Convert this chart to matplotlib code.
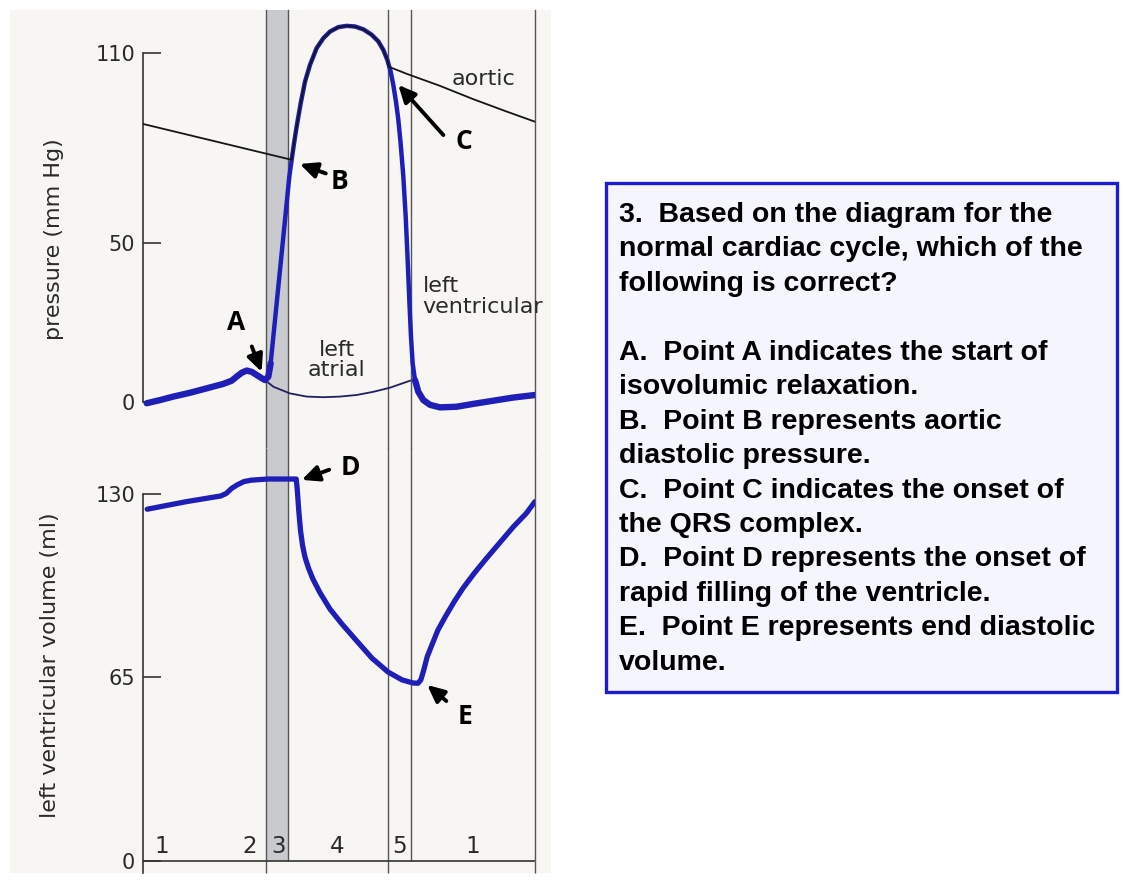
import matplotlib
matplotlib.use("Agg")
import matplotlib.pyplot as plt
from matplotlib.patches import Rectangle
import numpy as np

# --- data (time in s, pressure in mmHg, volume in ml) ---
lv_time = [0.0075, 0.0347, 0.0619, 0.0959, 0.130, 0.1639, 0.181, 0.1912, 0.2014,
           0.2116, 0.2218, 0.232, 0.2422, 0.249, 0.2558, 0.2605, 0.2660, 0.2728,
           0.2796, 0.2864, 0.2932, 0.2986, 0.3034, 0.3082, 0.3136, 0.3218, 0.3306,
           0.3408, 0.3544, 0.368, 0.3816, 0.3986, 0.4157, 0.4327, 0.4497, 0.4667,
           0.4803, 0.4905, 0.4986, 0.5054, 0.5108, 0.5163, 0.5211, 0.5258, 0.5313,
           0.5361, 0.5401, 0.5435, 0.5469, 0.5503, 0.5551, 0.5619, 0.5721, 0.5857,
           0.6061, 0.6401, 0.6741, 0.7149, 0.7558, 0.8]
lv_pressure = [-0.4, 0.6, 1.7, 2.9, 4.3, 5.7, 6.7, 8.0, 9.2,
               9.9, 9.5, 8.5, 7.5, 6.9, 8.0, 12.2, 20.6, 31.1,
               41.6, 52.1, 62.6, 71.0, 76.3, 81.5, 86.8, 94.1, 100.9,
               106.2, 111.5, 114.6, 116.7, 118.1, 118.5, 118.3, 117.4, 115.7,
               113.6, 110.9, 107.8, 104.1, 99.9, 94.6, 88.9, 81.5, 71.0,
               58.4, 44.8, 32.1, 20.6, 12.2, 6.9, 3.2, 0.6, -0.9,
               -1.7, -1.5, -0.6, 0.4, 1.4, 2.2]

aortic_time_before = [0.0, 0.3034]
aortic_pressure_before = [87.6, 76.3]
aortic_time_after = [0.502, 0.5381, 0.6061, 0.6741, 0.7422, 0.8]
aortic_pressure_after = [105.6, 103.4, 99.6, 95.4, 91.5, 88.3]

la_time = [0.249, 0.266, 0.30, 0.334, 0.368, 0.402, 0.436, 0.470, 0.504, 0.545]
la_pressure = [6.9, 4.8, 2.7, 1.7, 1.5, 1.7, 2.2, 3.2, 4.5, 6.7]

vol_time = [0.0086, 0.089, 0.159, 0.170, 0.181, 0.192, 0.206, 0.221, 0.254, 0.3127,
            0.3149, 0.3178, 0.3214, 0.3255, 0.3306, 0.3378, 0.3469, 0.3612, 0.3816,
            0.4061, 0.4347, 0.4673, 0.500, 0.5286, 0.551, 0.5612, 0.567, 0.573,
            0.580, 0.591, 0.602, 0.617, 0.635, 0.653, 0.676, 0.701, 0.727, 0.756,
            0.782, 0.8]
vol_ml = [124.6, 127.3, 129.3, 130.2, 132.0, 133.2, 134.4, 134.9, 135.3, 135.3,
          131.4, 124.3, 117.2, 111.9, 107.6, 103.7, 99.8, 95.0, 89.2,
          83.9, 78.2, 71.8, 66.9, 64.1, 63.0, 62.9, 64.1, 67.6,
          72.3, 77.1, 81.8, 86.5, 91.8, 96.6, 101.9, 107.2, 112.5, 118.4,
          123.1, 127.3]

phase_bounds = [0.25, 0.296, 0.5, 0.546, 0.8]
phase_labels = ['1', '2', '3', '4', '5', '1']
phase_label_x = [0.038, 0.218, 0.276, 0.396, 0.524, 0.673]

pressure_ticks = [0, 50, 110]
volume_ticks = [0, 65, 130]

question_lines = [
    "3.  Based on the diagram for the",
    "normal cardiac cycle, which of the",
    "following is correct?",
    "",
    "A.  Point A indicates the start of",
    "isovolumic relaxation.",
    "B.  Point B represents aortic",
    "diastolic pressure.",
    "C.  Point C indicates the onset of",
    "the QRS complex.",
    "D.  Point D represents the onset of",
    "rapid filling of the ventricle.",
    "E.  Point E represents end diastolic",
    "volume.",
]

W, H = 1148, 896
BLUE = '#1f1fb8'
LINE = '#555555'
AXIS = '#333333'
BAND = '#c8cace'
TEXT = '#2a2a2a'

fig = plt.figure(figsize=(W / 100, H / 100), dpi=100)
fig.patch.set_facecolor('white')


def px_axes(x0, y0, x1, y1):
    # axes placed by pixel box (y from the top)
    return fig.add_axes([x0 / W, 1 - y1 / H, (x1 - x0) / W, (y1 - y0) / H])


# scanned page background behind the diagram
fig.patches.append(Rectangle((10 / W, 1 - 873 / H), 541 / W, 863 / H,
                             transform=fig.transFigure, facecolor='#f7f6f3',
                             edgecolor='none', zorder=-5))

ax_p = px_axes(143, 10, 535, 448)
ax_v = px_axes(143, 448, 535, 873)

p_lo, p_hi = -14.5, 123.5
v_lo, v_hi = -4.36, 146.3
ax_p.set_xlim(0, 0.8)
ax_p.set_ylim(p_lo, p_hi)
ax_v.set_xlim(0, 0.8)
ax_v.set_ylim(v_lo, v_hi)

for ax in (ax_p, ax_v):
    ax.patch.set_alpha(0)
    ax.set_zorder(2)
    for s in ('top', 'right', 'bottom'):
        ax.spines[s].set_visible(False)
    ax.spines['left'].set_color(AXIS)
    ax.spines['left'].set_linewidth(1.2)
    ax.set_xticks([])
    ax.tick_params(axis='y', direction='in', length=13, width=1.2, color=AXIS,
                   labelsize=15, labelcolor=TEXT, pad=5.5)

ax_p.spines['left'].set_bounds(0, 110)
ax_p.set_yticks(pressure_ticks)
ax_v.spines['left'].set_bounds(v_lo, 130)
ax_v.set_yticks(volume_ticks)

# phase band and separators
ax_p.axvspan(phase_bounds[0], phase_bounds[1], color=BAND, lw=0, zorder=0)
ax_v.axvspan(phase_bounds[0], phase_bounds[1], ymin=(0 - v_lo) / (v_hi - v_lo),
             color=BAND, lw=0, zorder=0)
for t in phase_bounds:
    ax_p.axvline(t, color=LINE, lw=1.0, clip_on=False, zorder=1)
    ax_v.vlines(t, 0, v_hi, color=LINE, lw=1.0, clip_on=False, zorder=1)
for t in (phase_bounds[0], phase_bounds[2], phase_bounds[4]):
    ax_v.vlines(t, v_lo, 0, color=LINE, lw=1.0, clip_on=False, zorder=1)
ax_v.axhline(0, color=AXIS, lw=1.2, zorder=1)

# pressure curves
ax_p.plot(la_time, la_pressure, color='#202060', lw=1.3, zorder=2)
lv_t = np.array(lv_time)
lv_pr = np.array(lv_pressure)
ax_p.plot(lv_t, lv_pr, color=BLUE, lw=3.2, solid_capstyle='round',
          solid_joinstyle='round', zorder=3)
# diastolic parts are drawn heavier in the original
for m in (lv_t <= 0.262, lv_t >= 0.553):
    ax_p.plot(lv_t[m], lv_pr[m], color=BLUE, lw=4.6, solid_capstyle='round',
              solid_joinstyle='round', zorder=3)
ej = (lv_t >= aortic_time_before[-1]) & (lv_t <= aortic_time_after[0])
aortic_t = aortic_time_before + list(lv_t[ej]) + aortic_time_after
aortic_pr = aortic_pressure_before + list(lv_pr[ej]) + aortic_pressure_after
ax_p.plot(aortic_t, aortic_pr, color='#151515', lw=1.3, zorder=4)

# volume curve
ax_v.plot(vol_time, vol_ml, color=BLUE, lw=3.8, solid_capstyle='round',
          solid_joinstyle='round', zorder=3)

# curve names
lab = dict(fontsize=16, color=TEXT, zorder=5)
ax_p.text(0.695, 101.8, 'aortic', ha='center', va='center', **lab)
ax_p.text(0.571, 33.2, 'left\nventricular', ha='left', va='center',
          linespacing=1.05, clip_on=False, **lab)
ax_p.text(0.395, 13.2, 'left\natrial', ha='center', va='center',
          linespacing=1.05, **lab)

for s, x in zip(phase_labels, phase_label_x):
    ax_v.text(x, 5.0, s, ha='center', va='center', fontsize=16.5, color=TEXT)

# lettered arrows
arrow = dict(arrowstyle='-|>,head_length=0.6,head_width=0.28', lw=2.8,
             color='black', shrinkA=0, shrinkB=0, mutation_scale=17)
letter = dict(fontsize=19, fontweight='bold', family='Open Sans',
              ha='center', va='center', color='black', zorder=6)

ax_p.annotate('', xy=(0.242, 9.5), xytext=(0.222, 17.5), arrowprops=arrow, zorder=6)
ax_p.text(0.191, 25.0, 'A', **letter)
ax_p.annotate('', xy=(0.320, 75.0), xytext=(0.373, 72.0), arrowprops=arrow, zorder=6)
ax_p.text(0.401, 69.4, 'B', **letter)
ax_p.annotate('', xy=(0.521, 99.9), xytext=(0.613, 84.1), arrowprops=arrow, zorder=6)
ax_p.text(0.654, 82.0, 'C', **letter)

ax_v.annotate('', xy=(0.324, 135.0), xytext=(0.380, 138.6), arrowprops=arrow, zorder=6)
ax_v.text(0.424, 139.4, 'D', **letter)
ax_v.annotate('', xy=(0.580, 62.3), xytext=(0.619, 56.6), arrowprops=arrow, zorder=6)
ax_v.text(0.657, 51.0, 'E', **letter)

# axis titles
fig.text(54 / W, 1 - 239 / H, 'pressure (mm Hg)', rotation=90, ha='center',
         va='center', fontsize=16, color=TEXT)
fig.text(50 / W, 1 - 665 / H, 'left ventricular volume (ml)', rotation=90,
         ha='center', va='center', fontsize=16, color=TEXT)

# question box
fig.patches.append(Rectangle((606 / W, 1 - 692 / H), 511 / W, 509 / H,
                             transform=fig.transFigure, facecolor='#f5f5fd',
                             edgecolor='#1c1cd0', lw=2.4, zorder=1))
y0, step = 215, 34.45
for i, line in enumerate(question_lines):
    if not line:
        continue
    fig.text(619 / W, 1 - (y0 + i * step) / H, line, ha='left', va='center',
             fontsize=20.5, fontweight='bold', family='Liberation Sans',
             color='black', zorder=2)

fig.savefig('out.png', dpi=100)
